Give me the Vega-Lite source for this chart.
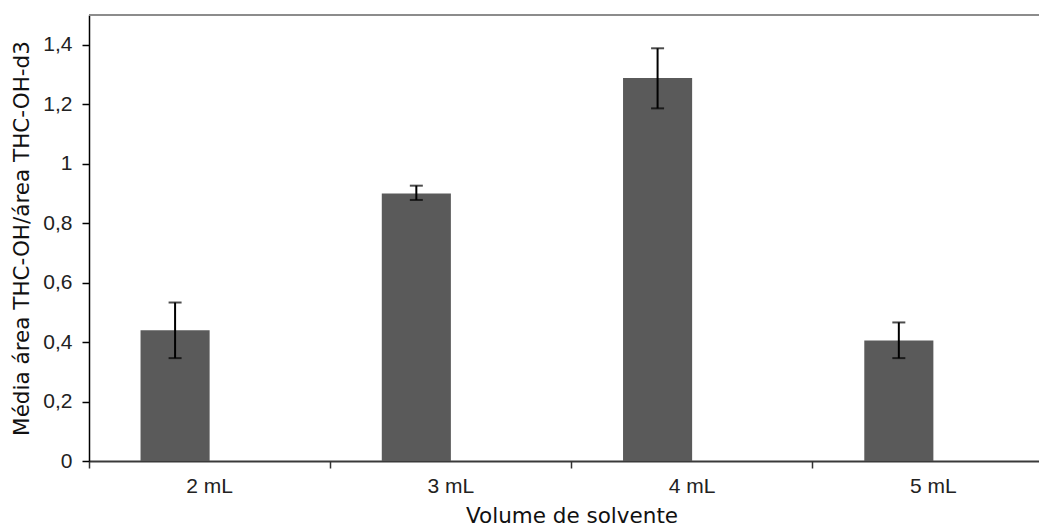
{
  "$schema": "https://vega.github.io/schema/vega-lite/v6.json",
  "width": 950,
  "height": 446,
  "autosize": {"type": "none"},
  "padding": {"left": 89, "top": 15, "right": 0, "bottom": 65},
  "config": {
    "view": {"stroke": null},
    "axis": {
      "grid": false,
      "labelFont": "Liberation Sans",
      "labelFontSize": 21,
      "labelColor": "#222222",
      "titleFont": "DejaVu Sans",
      "titleFontSize": 21.5,
      "titleFontWeight": "normal",
      "titleColor": "#111111"
    },
    "axisY": {
      "domainColor": "#000000",
      "domainWidth": 1.5,
      "tickColor": "#000000",
      "tickWidth": 1.5,
      "tickSize": 7,
      "labelPadding": 10,
      "titlePadding": 9
    }
  },
  "data": {
    "values": [
      {"volume": "2 mL", "serie": "Média", "media": 0.44, "low": 0.346, "high": 0.533},
      {"volume": "3 mL", "serie": "Média", "media": 0.90, "low": 0.878, "high": 0.926},
      {"volume": "4 mL", "serie": "Média", "media": 1.288, "low": 1.186, "high": 1.388},
      {"volume": "5 mL", "serie": "Média", "media": 0.405, "low": 0.346, "high": 0.466}
    ]
  },
  "layer": [
    {
      "mark": {"type": "bar", "color": "#5a5a5a"},
      "encoding": {
        "x": {
          "field": "volume", "type": "nominal", "sort": null,
          "scale": {"range": [0, 965], "paddingInner": 0, "paddingOuter": 0},
          "axis": {
            "title": "Volume de solvente",
            "labelAngle": 0,
            "ticks": false,
            "tickSize": 0,
            "labelPadding": 14,
            "domainColor": "#3a3a3a",
            "domainWidth": 2,
            "titlePadding": 9
          }
        },
        "xOffset": {
          "field": "serie", "type": "nominal",
          "scale": {"domain": ["Média", "-"], "paddingInner": 0, "paddingOuter": 0.746}
        },
        "y": {
          "field": "media", "type": "quantitative",
          "scale": {"domain": [0, 1.5], "nice": false},
          "title": "Média área THC-OH/área THC-OH-d3",
          "axis": {
            "values": [0, 0.2, 0.4, 0.6, 0.8, 1, 1.2, 1.4],
            "labelExpr": "replace(format(datum.value, '~g'), '.', ',')"
          }
        }
      }
    },
    {
      "mark": {"type": "rule", "color": "#000000", "strokeWidth": 2},
      "encoding": {
        "x": {
          "field": "volume", "type": "nominal", "sort": null,
          "axis": {
            "title": null,
            "orient": "bottom",
            "labels": false,
            "domain": false,
            "ticks": true,
            "bandPosition": 0,
            "tickSize": 7,
            "tickColor": "#333333",
            "tickWidth": 1.5
          }
        },
        "xOffset": {"field": "serie", "type": "nominal"},
        "y": {"field": "low", "type": "quantitative", "title": "Média área THC-OH/área THC-OH-d3"},
        "y2": {"field": "high"}
      }
    },
    {
      "mark": {"type": "tick", "color": "#000000", "size": 13, "thickness": 2},
      "encoding": {
        "x": {"field": "volume", "type": "nominal", "sort": null, "axis": null},
        "xOffset": {"field": "serie", "type": "nominal"},
        "y": {"field": "low", "type": "quantitative", "title": "Média área THC-OH/área THC-OH-d3"}
      }
    },
    {
      "mark": {"type": "tick", "color": "#000000", "size": 13, "thickness": 2},
      "encoding": {
        "x": {"field": "volume", "type": "nominal", "sort": null, "axis": null},
        "xOffset": {"field": "serie", "type": "nominal"},
        "y": {"field": "high", "type": "quantitative", "title": "Média área THC-OH/área THC-OH-d3"}
      }
    },
    {
      "mark": {"type": "rule", "color": "#8c8c8c", "strokeWidth": 2},
      "encoding": {"y": {"datum": 1.5, "type": "quantitative", "title": "Média área THC-OH/área THC-OH-d3"}}
    }
  ],
  "resolve": {"axis": {"x": "independent"}}
}
